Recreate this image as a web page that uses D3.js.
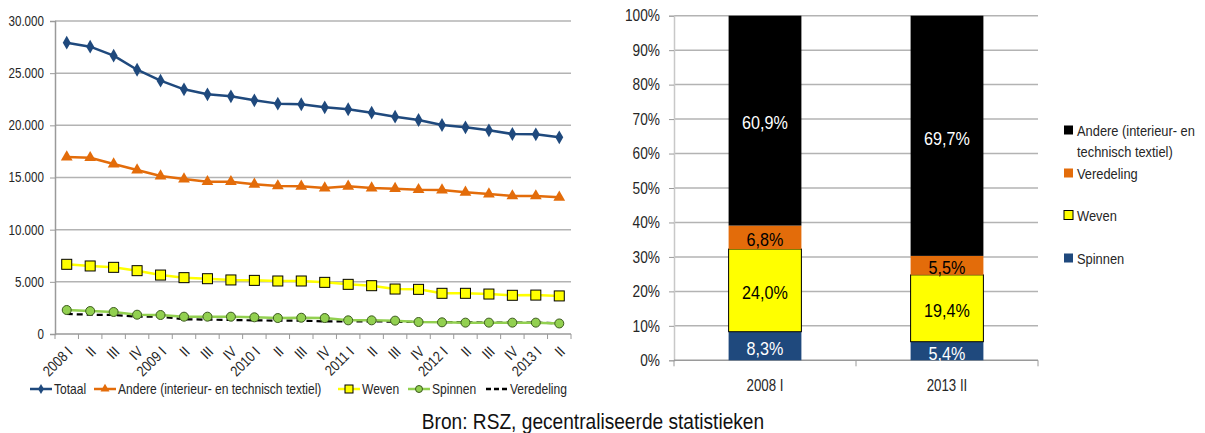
<!DOCTYPE html>
<html lang="nl">
<head>
<meta charset="UTF-8">
<title>Textiel tewerkstelling</title>
<script src="https://cdn.jsdelivr.net/npm/d3@7/dist/d3.min.js"></script>
<style>
    body{margin:0; background:#fff;}
    svg{display:block;}
    text{font-family:"Liberation Sans",Arial,sans-serif; fill:#262626;}
</style>
</head>
<body>
<svg id="chart" width="1205" height="433"></svg>
<script>
    // kwartalen 2008 I - 2013 II
    var quarters = ["2008 I","II","III","IV","2009 I","II","III","IV","2010 I","II","III","IV",
                    "2011 I","II","III","IV","2012 I","II","III","IV","2013 I","II"];
    var totaal     = [27920,27540,26680,25330,24280,23450,22970,22780,22400,22080,22020,21730,21540,21210,20830,20510,20030,19810,19520,19170,19140,18850];
    var andere     = [16960,16900,16290,15720,15140,14850,14600,14600,14350,14190,14150,13990,14150,13990,13930,13830,13800,13580,13420,13230,13230,13100];
    var weven      = [6680,6520,6390,6070,5650,5400,5300,5180,5140,5080,5080,4950,4760,4630,4310,4280,3900,3900,3830,3710,3730,3650];
    var spinnen    = [2300,2200,2110,1850,1820,1660,1660,1660,1600,1530,1560,1530,1310,1310,1280,1150,1120,1090,1090,1090,1090,1010];
    var veredeling = [1920,1850,1820,1660,1660,1410,1380,1340,1310,1280,1280,1210,1210,1210,1180,1150,1150,1120,1090,1090,1090,1030];
    var yTicksLeft = [0,5000,10000,15000,20000,25000,30000];

    // aandeel per subsector
    var shareCats       = ["2008 I","2013 II"];
    var spinnenShare    = [8.3,5.4];
    var wevenShare      = [24.0,19.4];
    var veredelingShare = [6.8,5.5];
    var andereShare     = [60.9,69.7];
    var yTicksRight = [0,10,20,30,40,50,60,70,80,90,100];

    var svg = d3.select("#chart");
    var gridColor = "#b3b3b3";
    var axisColor = "#9a9a9a";

    // smalle letter (zoals Arial Narrow): tekst horizontaal samendrukken
    function narrow(sel, k){
        sel.each(function(){
            var len = this.getComputedTextLength();
            d3.select(this).attr("textLength", len*(k || 0.83)).attr("lengthAdjust","spacingAndGlyphs");
        });
    }

    // ---------- linker grafiek ----------
    var L = {left:55, right:571, top:21, bottom:334};
    var nl = d3.formatLocale({decimal:",", thousands:".", grouping:[3], currency:["€",""]});
    var fmt = nl.format(",");

    var x = d3.scaleBand().domain(d3.range(quarters.length)).range([L.left, L.right]);
    var y = d3.scaleLinear().domain([0,30000]).range([L.bottom, L.top]);
    var cx = function(i){ return x(i) + x.bandwidth()/2; };

    var left = svg.append("g");
    left.selectAll("line.grid").data(yTicksLeft.slice(1)).enter().append("line")
        .attr("x1", L.left).attr("x2", L.right)
        .attr("y1", function(d){ return y(d); }).attr("y2", function(d){ return y(d); })
        .style("stroke", gridColor).style("stroke-width", 1.5);

    var yAxisL = left.append("g").attr("transform","translate("+L.left+",0)")
        .call(d3.axisLeft(y).tickValues(yTicksLeft).tickSize(5).tickPadding(6).tickFormat(fmt));
    yAxisL.selectAll("text").style("font-size","14px").style("font-family",null).call(narrow);
    yAxisL.select(".domain").style("stroke",axisColor).style("stroke-width",1.5);
    yAxisL.selectAll(".tick line").style("stroke",axisColor);

    // categorie-as met streepjes op de grenzen
    var xAxisL = left.append("g").attr("transform","translate(0,"+L.bottom+")");
    xAxisL.append("line").attr("x1",L.left).attr("x2",L.right).style("stroke",axisColor).style("stroke-width",1.5);
    xAxisL.selectAll("line.tick").data(d3.range(quarters.length+1)).enter().append("line")
        .attr("x1", function(i){ return i < quarters.length ? x(i) : L.right; })
        .attr("x2", function(i){ return i < quarters.length ? x(i) : L.right; })
        .attr("y1",0).attr("y2",5).style("stroke",axisColor);
    xAxisL.selectAll("text").data(quarters).enter().append("text")
        .attr("transform", function(d,i){ return "translate("+(cx(i)+3)+",15) rotate(-45)"; })
        .attr("text-anchor","end").attr("dy","0.35em")
        .style("font-size","15px").text(function(d){ return d; })
        .call(narrow);

    var line = d3.line().x(function(d,i){ return cx(i); }).y(function(d){ return y(d); });

    function drawSeries(data, color, width, dash){
        left.append("path").datum(data).attr("d", line)
            .style("fill","none").style("stroke",color).style("stroke-width",width)
            .style("stroke-dasharray", dash || null).style("stroke-linejoin","round");
    }
    drawSeries(veredeling, "#000", 2.2, "6,4");
    drawSeries(spinnen, "#92d050", 2.5);
    drawSeries(weven, "#ffff00", 2.5);
    drawSeries(andere, "#e36c0a", 2.5);
    drawSeries(totaal, "#1f497d", 2.5);

    left.selectAll("circle.sp").data(spinnen).enter().append("circle")
        .attr("cx", function(d,i){ return cx(i); }).attr("cy", function(d){ return y(d); })
        .attr("r",4.5).style("fill","#92d050").style("stroke","#3c5a1e").style("stroke-width",1);
    left.selectAll("rect.we").data(weven).enter().append("rect")
        .attr("x", function(d,i){ return cx(i)-5; }).attr("y", function(d){ return y(d)-5; })
        .attr("width",10).attr("height",10).style("fill","#ffff00").style("stroke","#000").style("stroke-width",1);
    left.selectAll("path.an").data(andere).enter().append("path")
        .attr("d", d3.symbol().type(d3.symbolTriangle).size(60))
        .attr("transform", function(d,i){ return "translate("+cx(i)+","+y(d)+")"; })
        .style("fill","#e36c0a");
    left.selectAll("path.to").data(totaal).enter().append("path")
        .attr("d", d3.symbol().type(d3.symbolDiamond).size(55))
        .attr("transform", function(d,i){ return "translate("+cx(i)+","+y(d)+")"; })
        .style("fill","#1f497d");

    // legende links
    var legL = [
        {name:"Totaal", x:30, color:"#1f497d", mark:"diamond"},
        {name:"Andere (interieur- en technisch textiel)", x:94, color:"#e36c0a", mark:"triangle"},
        {name:"Weven", x:338, color:"#ffff00", mark:"square"},
        {name:"Spinnen", x:408, color:"#92d050", mark:"circle"},
        {name:"Veredeling", x:486, color:"#000", mark:"dash"}
    ];
    var ly = 389;
    var lg = left.selectAll("g.leg").data(legL).enter().append("g")
        .attr("transform", function(d){ return "translate("+d.x+","+ly+")"; });
    lg.append("line").attr("x1",0).attr("x2",22).attr("y1",0).attr("y2",0)
        .style("stroke", function(d){ return d.color; }).style("stroke-width",2.5)
        .style("stroke-dasharray", function(d){ return d.mark==="dash" ? "5,3" : null; });
    lg.each(function(d){
        var g = d3.select(this);
        if(d.mark==="diamond") g.append("path").attr("d", d3.symbol().type(d3.symbolDiamond).size(30)).attr("transform","translate(11,0)").style("fill",d.color);
        if(d.mark==="triangle") g.append("path").attr("d", d3.symbol().type(d3.symbolTriangle).size(35)).attr("transform","translate(11,0)").style("fill",d.color);
        if(d.mark==="square") g.append("rect").attr("x",7).attr("y",-4).attr("width",8).attr("height",8).style("fill",d.color).style("stroke","#000");
        if(d.mark==="circle") g.append("circle").attr("cx",11).attr("r",3.5).style("fill",d.color).style("stroke","#3c5a1e");
    });
    lg.append("text").attr("x",24).attr("dy","0.36em").style("font-size","14.5px").text(function(d){ return d.name; })
        .call(narrow);

    // ---------- rechter grafiek ----------
    var R = {left:674, right:1038, top:15.7, bottom:360.3};
    var xr = d3.scaleBand().domain(shareCats).range([R.left, R.right]).paddingInner(0.6).paddingOuter(0.3);
    var yr = d3.scaleLinear().domain([0,100]).range([R.bottom, R.top]);

    var right = svg.append("g");
    right.selectAll("line.grid").data(yTicksRight.slice(1)).enter().append("line")
        .attr("x1", R.left).attr("x2", R.right)
        .attr("y1", function(d){ return yr(d); }).attr("y2", function(d){ return yr(d); })
        .style("stroke", gridColor).style("stroke-width", 1.5);
    var yAxisR = right.append("g").attr("transform","translate("+R.left+",0)")
        .call(d3.axisLeft(yr).tickValues(yTicksRight).tickSize(5).tickPadding(9).tickFormat(function(d){ return d+"%"; }));
    yAxisR.selectAll("text").style("font-size","16.5px").style("font-family",null).call(narrow);
    yAxisR.select(".domain").style("stroke","#c8c8c8").style("stroke-width",1.5);
    yAxisR.selectAll(".tick line").style("stroke",axisColor);

    var xAxisR = right.append("g").attr("transform","translate(0,"+R.bottom+")");
    xAxisR.append("line").attr("x1",R.left).attr("x2",R.right).style("stroke",axisColor).style("stroke-width",1.5);
    xAxisR.selectAll("line.tick").data([R.left, (R.left+R.right)/2, R.right]).enter().append("line")
        .attr("x1", function(d){ return d; }).attr("x2", function(d){ return d; })
        .attr("y1",0).attr("y2",6).style("stroke",axisColor);
    xAxisR.selectAll("text").data(shareCats).enter().append("text")
        .attr("x", function(d){ return xr(d)+xr.bandwidth()/2; }).attr("y",31)
        .attr("text-anchor","middle").style("font-size","16px").text(function(d){ return d; })
        .call(narrow);

    var stackData = shareCats.map(function(c,i){
        return {cat:c, Spinnen:spinnenShare[i], Weven:wevenShare[i], Veredeling:veredelingShare[i], Andere:andereShare[i]};
    });
    var keys = ["Spinnen","Weven","Veredeling","Andere"];
    var fills = {Spinnen:"#1f497d", Weven:"#ffff00", Veredeling:"#e36c0a", Andere:"#000000"};
    var txt = {Spinnen:"#fff", Weven:"#000", Veredeling:"#000", Andere:"#fff"};
    var series = d3.stack().keys(keys)(stackData);
    var pct = function(v){ return d3.format(".1f")(v).replace(".",",") + "%"; };

    var sg = right.selectAll("g.s").data(series).enter().append("g");
    sg.selectAll("rect").data(function(s){ return s.map(function(p){ p.key = s.key; return p; }); }).enter().append("rect")
        .attr("x", function(p){ return xr(p.data.cat); }).attr("width", xr.bandwidth())
        .attr("y", function(p){ return yr(p[1]); }).attr("height", function(p){ return yr(p[0]) - yr(p[1]); })
        .style("fill", function(p){ return fills[p.key]; })
        .style("stroke", function(p){ return p.key==="Weven" ? "#000" : "none"; }).style("stroke-width",1);
    sg.selectAll("text").data(function(s){ return s; }).enter().append("text")
        .attr("x", function(p){ return xr(p.data.cat)+xr.bandwidth()/2; })
        .attr("y", function(p){ return (yr(p[0])+yr(p[1]))/2 + 2; })
        .attr("dy","0.36em").attr("text-anchor","middle").style("font-size","19px")
        .style("fill", function(p){ return txt[p.key]; })
        .text(function(p){ return pct(p[1]-p[0]); })
        .call(narrow, 0.85);

    // legende rechts (horizontaal geschaald i.p.v. textLength)
    var legR = [
        {name:["Andere (interieur- en","technisch textiel)"], key:"Andere", y:130},
        {name:["Veredeling"], key:"Veredeling", y:173},
        {name:["Weven"], key:"Weven", y:215},
        {name:["Spinnen"], key:"Spinnen", y:258}
    ];
    var rg = right.selectAll("g.leg").data(legR).enter().append("g")
        .attr("transform", function(d){ return "translate(1064,"+d.y+")"; });
    rg.append("rect").attr("x",0).attr("y",-4.5).attr("width",9).attr("height",9)
        .style("fill", function(d){ return fills[d.key]; })
        .style("stroke", function(d){ return d.key==="Weven" ? "#000" : "none"; });
    rg.append("g").attr("transform","translate(13,0) scale(0.83,1)")
        .selectAll("text").data(function(d){ return d.name; }).enter().append("text")
        .attr("x",0).attr("y", function(d,i){ return i*21; }).attr("dy","0.36em")
        .style("font-size","15.5px").text(function(d){ return d; });

    // bron
    svg.append("text").attr("x",593).attr("y",429).attr("text-anchor","middle")
        .style("font-size","22.5px").style("fill","#111").text("Bron: RSZ, gecentraliseerde statistieken")
        .call(narrow, 0.85);
</script>
</body>
</html>
